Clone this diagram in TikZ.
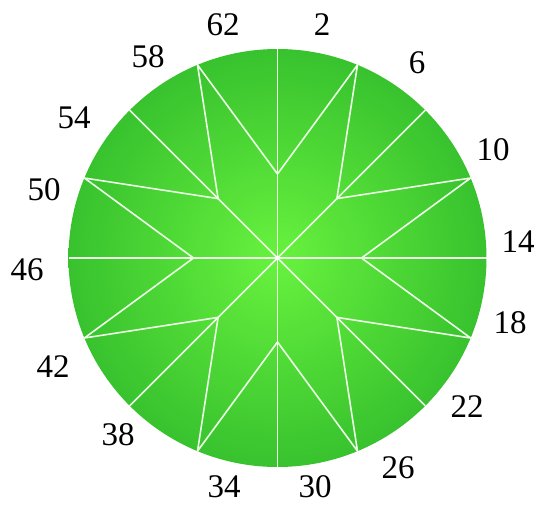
\documentclass[tikz,border=0pt]{standalone}
\usepackage{fontspec}
\setmainfont{Liberation Serif}
\usepackage{tikz}
\usetikzlibrary{calc}
\definecolor{gemlight}{RGB}{104,242,62}
\definecolor{gemdark}{RGB}{56,194,46}
\definecolor{facetclr}{RGB}{236,255,230}
\tikzset{
    gem/.style={shading=radial,inner color=gemlight,outer color=gemdark},
    facet/.style={draw=facetclr,line width=1.6pt,line join=miter},
    lbl/.style={font=\fontsize{33}{33}\selectfont,inner sep=0pt},
}

\begin{document}
\begin{tikzpicture}[x=1pt,y=-1pt]
\useasboundingbox (0,0) rectangle (541,507);
\coordinate (O) at (277.5,258);
\shade[gem] (O) circle (209);

% rim points every 22.5 deg, inner points on the spokes
\foreach \k in {0,...,15}
  \coordinate (p\k) at ($(O)+({22.5*\k-90}:209)$);
\foreach \j in {0,...,7}
  \coordinate (q\j) at ($(O)+({45*\j-90}:84)$);

\foreach \k [evaluate=\k as \m using {int(\k+8)}] in {0,2,4,6}
  \draw[facet] (p\k) -- (p\m);
\foreach \j [evaluate=\j as \m using {int(2*\j+1)},
             evaluate=\j as \n using {int(mod(\j+1,8))}] in {0,...,7}
  \draw[facet] (q\j) -- (p\m) -- (q\n);
\fill[white] (O) circle (2);

\node[lbl] (n2)  at (322,25)  {2};
\node[lbl] (n6)  at (417,63)  {6};
\node[lbl] (n10) at (493,150) {10};
\node[lbl] (n14) at (518,242) {14};
\node[lbl] (n18) at (510,323) {18};
\node[lbl] (n22) at (467,407) {22};
\node[lbl] (n26) at (398,468) {26};
\node[lbl] (n30) at (315,487) {30};
\node[lbl] (n34) at (224,487) {34};
\node[lbl] (n38) at (118,435) {38};
\node[lbl] (n42) at (53,367)  {42};
\node[lbl] (n46) at (27,270)  {46};
\node[lbl] (n50) at (44,190)  {50};
\node[lbl] (n54) at (74,118)  {54};
\node[lbl] (n58) at (148,57)  {58};
\node[lbl] (n62) at (223,25)  {62};
\end{tikzpicture}
\end{document}
